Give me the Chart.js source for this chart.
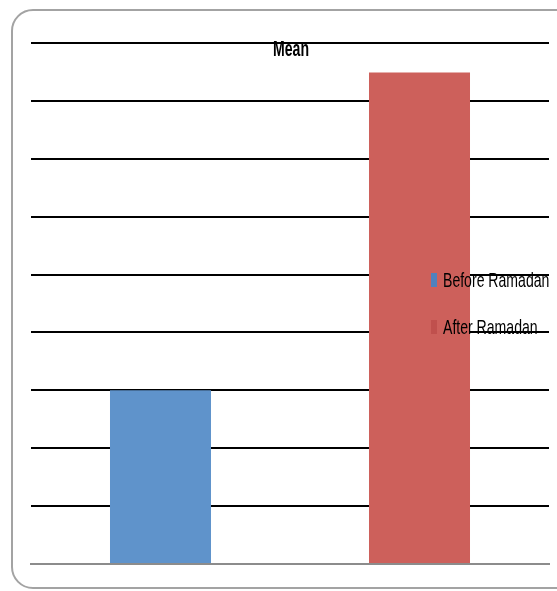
<!DOCTYPE html>
<html lang="en">
<head>
    <meta charset="UTF-8">
    <title>Mean</title>
    <script src="https://cdn.jsdelivr.net/npm/chart.js"></script>
    <style>
        html, body { margin: 0; padding: 0; background: #fff; overflow: hidden; }
        .frame {
            position: absolute; left: 11px; top: 9px; width: 580px; height: 580px;
            border: 2px solid #a3a3a3; border-radius: 22px; box-sizing: border-box;
        }
        .wrap { position: absolute; left: 0; top: 0; width: 557px; height: 591px; }
    </style>
</head>
<body>
<div class="frame"></div>
<div class="wrap"><canvas id="meanChart" width="557" height="591"></canvas></div>

<script>
// chart data
const chartTitle = 'Mean';
const categories = ['Before Ramadan', 'After Ramadan'];
const meanValues = [3, 8.49];
const barColors = ['#5f93cb', '#cd605b'];
const legendMarkerColors = ['#4f81bd', '#c0504d'];
const yMax = 9;

const baseFont = '"Liberation Sans", Arial, sans-serif';

// draw text squeezed horizontally to look like the narrow original font
function narrowText(ctx, text, x, y, align, squeeze) {
    ctx.save();
    ctx.translate(x, y);
    ctx.scale(squeeze, 1);
    ctx.textAlign = align;
    ctx.fillText(text, 0, 0);
    ctx.restore();
}

// title and legend drawn over the plot like the original
const overlayPlugin = {
    id: 'overlay',
    afterDraw(chart) {
        const ctx = chart.ctx;
        ctx.save();
        ctx.fillStyle = '#000';
        ctx.textBaseline = 'alphabetic';
        ctx.font = 'bold 22px ' + baseFont;
        narrowText(ctx, chartTitle, 291, 56, 'center', 0.64);

        ctx.font = '21px ' + baseFont;
        categories.forEach((name, i) => {
            let base = 287 + i * 47;
            ctx.fillStyle = legendMarkerColors[i];
            ctx.fillRect(431, base - 14, 6, 14);
            ctx.fillStyle = '#000';
            narrowText(ctx, name, 443, base, 'left', 0.67);
        });
        ctx.restore();
    }
};

const ctx = document.getElementById('meanChart').getContext('2d');
new Chart(ctx, {
    type: 'bar',
    data: {
        labels: categories,
        datasets: [{
            label: chartTitle,
            data: meanValues,
            backgroundColor: barColors,
            borderWidth: 0,
            barPercentage: 0.39,
            categoryPercentage: 1.0
        }]
    },
    options: {
        responsive: false,
        animation: false,
        layout: { padding: { left: 31, right: 8, top: 43, bottom: 19 } },
        plugins: {
            legend: { display: false },
            title: { display: false },
            tooltip: { enabled: false }
        },
        scales: {
            x: {
                grid: { display: false },
                ticks: { display: false },
                border: { display: true, color: '#8c8c8c', width: 2 }
            },
            y: {
                min: 0,
                max: yMax,
                ticks: { display: false, stepSize: 1 },
                grid: {
                    drawTicks: false,
                    lineWidth: 2,
                    color: c => c.tick && c.tick.value === 0 ? '#8c8c8c' : '#000'
                },
                border: { display: false }
            }
        }
    },
    plugins: [overlayPlugin]
});
</script>
</body>
</html>
